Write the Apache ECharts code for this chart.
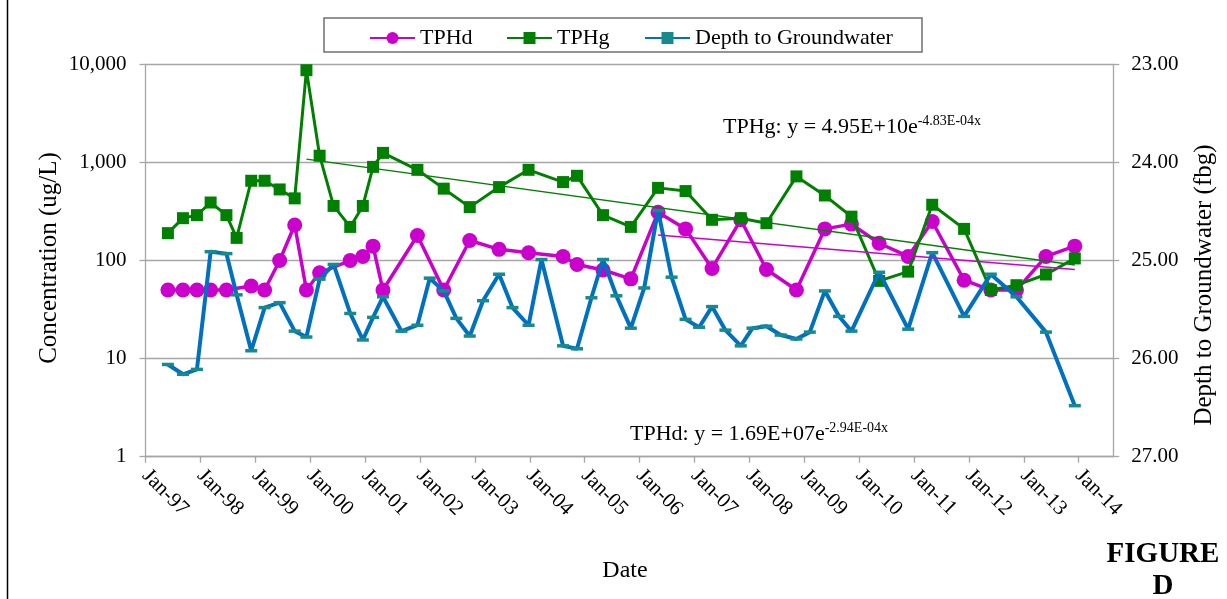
<!DOCTYPE html>
<html><head><meta charset="utf-8">
<script src="https://cdn.jsdelivr.net/npm/echarts@6/dist/echarts.min.js"></script>
<style>html,body{margin:0;padding:0;background:#fff}#c{width:1227px;height:599px}</style>
</head><body><div id="c"></div>
<script>
// ---- data ----
const depthDates = ['1997-05-30','1997-09-07','1997-12-09','1998-03-10','1998-06-23','1998-08-30','1998-12-05','1999-03-04','1999-06-12','1999-09-20','1999-12-07','2000-03-04','2000-06-05','2000-09-24','2000-12-17','2001-02-23','2001-04-30','2001-08-31','2001-12-15','2002-03-07','2002-06-08','2002-08-31','2002-11-28','2003-02-24','2003-06-11','2003-09-08','2003-12-24','2004-03-19','2004-08-10','2004-11-11','2005-02-15','2005-05-03','2005-07-31','2005-11-04','2006-02-01','2006-05-04','2006-08-02','2006-11-03','2007-02-01','2007-04-28','2007-07-26','2007-11-05','2008-01-22','2008-04-24','2008-07-28','2008-11-10','2009-02-07','2009-05-18','2009-08-21','2009-11-11','2010-05-14','2010-11-23','2011-05-02','2011-11-30','2012-05-26','2012-11-13','2013-05-28','2013-12-06'];
const depthValues = [26.06,26.16,26.11,24.91,24.93,25.35,25.92,25.48,25.43,25.72,25.78,25.19,25.04,25.54,25.81,25.58,25.37,25.72,25.66,25.18,25.31,25.59,25.77,25.41,25.14,25.48,25.66,24.99,25.87,25.90,25.38,24.99,25.36,25.69,25.28,24.49,25.17,25.60,25.68,25.47,25.71,25.87,25.69,25.67,25.76,25.80,25.73,25.31,25.57,25.72,25.12,25.70,24.92,25.57,25.14,25.37,25.73,26.48];

const tphdDates = ['1997-05-30','1997-09-07','1997-12-09','1998-03-10','1998-06-23','1998-12-05','1999-03-04','1999-06-12','1999-09-20','1999-12-07','2000-03-04','2000-09-24','2000-12-17','2001-02-23','2001-04-30','2001-12-15','2002-06-08','2002-11-28','2003-06-11','2003-12-24','2004-08-10','2004-11-11','2005-05-03','2005-11-04','2006-05-04','2006-11-03','2007-04-28','2007-11-05','2008-04-24','2008-11-10','2009-05-18','2009-11-11','2010-05-14','2010-11-23','2011-05-02','2011-11-30','2012-05-26','2012-11-13','2013-05-28','2013-12-06'];
const tphdValues = [50,50,50,50,50,55,50,100,230,50,75,100,110,140,50,180,50,160,130,120,110,91,80,65,310,210,83,260,81,50,210,235,150,110,250,63,50,50,110,140];

const tphgDates = ['1997-05-30','1997-09-07','1997-12-09','1998-03-10','1998-06-23','1998-08-30','1998-12-05','1999-03-04','1999-06-12','1999-09-20','1999-12-07','2000-03-04','2000-06-05','2000-09-24','2000-12-17','2001-02-23','2001-04-30','2001-12-15','2002-06-08','2002-11-28','2003-06-11','2003-12-24','2004-08-10','2004-11-11','2005-05-03','2005-11-04','2006-05-04','2006-11-03','2007-04-28','2007-11-05','2008-04-24','2008-11-10','2009-05-18','2009-11-11','2010-05-14','2010-11-23','2011-05-02','2011-11-30','2012-05-26','2012-11-13','2013-05-28','2013-12-06'];
const tphgValues = [190,270,290,390,290,170,650,650,530,430,8700,1170,360,220,360,900,1250,840,540,350,560,840,630,730,290,220,550,510,260,270,240,720,460,280,62,77,370,210,50,56,72,105];

const tphgTrendDates = ['1999-12-07','2013-12-06'];
const tphgTrendValues = [1080, 90];
const tphdTrendDates = ['2006-05-04','2013-12-06'];
const tphdTrendValues = [182, 81];

const yearTicks = [1997,1998,1999,2000,2001,2002,2003,2004,2005,2006,2007,2008,2009,2010,2011,2012,2013,2014];
const concTicks = [1,10,100,1000,10000];
const depthTicks = [23,24,25,26,27];

const seriesNames = ['TPHd','TPHg','Depth to Groundwater'];
const tphgEquation = ['TPHg: y = 4.95E+10e', '-4.83E-04x'];
const tphdEquation = ['TPHd: y = 1.69E+07e', '-2.94E-04x'];

// ---- helpers ----
function toYear(s){
  const p = s.split('-').map(Number);
  const t0 = Date.UTC(p[0],0,1), t1 = Date.UTC(p[0]+1,0,1);
  return p[0] + (Date.UTC(p[0],p[1]-1,p[2]) - t0) / (t1 - t0);
}
function pairs(dates, vals){ return dates.map((d,i)=>[toYear(d), vals[i]]); }

const FONT = 'Liberation Serif';
const GRAY = '#a6a6a6';
const legendText = {fontFamily: FONT, fontSize: 22, color: '#000'};
function oneLegend(name, left){
  return {data: [name], left: left, top: 22, itemWidth: 45, itemHeight: 15, itemGap: 0, textStyle: legendText};
}

const chart = echarts.init(document.getElementById('c'), null, {renderer:'canvas'});
chart.setOption({
  animation: false,
  backgroundColor: '#ffffff',
  grid: {left: 145.5, right: 113.7, top: 64.3, bottom: 142.3, containLabel: false},
  legend: [
    oneLegend(seriesNames[0], 364),
    oneLegend(seriesNames[1], 501),
    oneLegend(seriesNames[2], 639)
  ],
  xAxis: {
    type: 'value', min: 1997, max: 2014.63,
    splitLine: {show: false},
    axisLine: {lineStyle: {color: GRAY, width: 1.3}},
    axisTick: {show: true, length: 6, customValues: yearTicks, lineStyle: {color: GRAY, width: 1.3}},
    axisLabel: {
      customValues: yearTicks, rotate: -45, margin: 16,
      fontFamily: FONT, fontSize: 21, color: '#000',
      formatter: v => 'Jan-' + String(Math.round(v) % 100).padStart(2,'0')
    }
  },
  yAxis: [
    {
      type: 'log', logBase: 10, min: concTicks[0], max: concTicks[concTicks.length-1],
      axisLine: {show: true, lineStyle: {color: GRAY, width: 1.3}},
      axisTick: {show: true, length: 6, lineStyle: {color: GRAY, width: 1.3}},
      splitLine: {show: true, lineStyle: {color: GRAY, width: 1.3}},
      minorTick: {show: false},
      axisLabel: {
        margin: 19, fontFamily: FONT, fontSize: 21, color: '#000',
        formatter: v => Math.round(v).toLocaleString('en-US')
      }
    },
    {
      type: 'value', min: depthTicks[0], max: depthTicks[depthTicks.length-1], interval: 1, inverse: true, position: 'right',
      axisLine: {show: true, lineStyle: {color: GRAY, width: 1.3}},
      axisTick: {show: true, length: 6, lineStyle: {color: GRAY, width: 1.3}},
      splitLine: {show: false},
      axisLabel: {
        margin: 18, fontFamily: FONT, fontSize: 21, color: '#000',
        formatter: v => Number(v).toFixed(2)
      }
    }
  ],
  series: [
    {
      name: 'TPHd', type: 'line', yAxisIndex: 0, z: 2,
      data: pairs(tphdDates, tphdValues),
      symbol: 'circle', symbolSize: 15,
      itemStyle: {color: '#cc00cc'},
      lineStyle: {color: '#cc00cc', width: 3.5}
    },
    {
      name: 'TPHg', type: 'line', yAxisIndex: 0, z: 3,
      data: pairs(tphgDates, tphgValues),
      symbol: 'rect', symbolSize: 12,
      itemStyle: {color: '#008000'},
      lineStyle: {color: '#008000', width: 3}
    },
    {
      name: 'Depth to Groundwater', type: 'line', yAxisIndex: 1, z: 4,
      data: pairs(depthDates, depthValues),
      symbol: 'rect', symbolSize: [12, 3.5],
      itemStyle: {color: '#178a8c'},
      lineStyle: {color: '#0070c0', width: 4}
    },
    {
      name: 'TPHg trend', type: 'line', yAxisIndex: 0, z: 5,
      data: pairs(tphgTrendDates, tphgTrendValues),
      symbol: 'none', lineStyle: {color: '#008000', width: 1.3}
    },
    {
      name: 'TPHd trend', type: 'line', yAxisIndex: 0, z: 5,
      data: pairs(tphdTrendDates, tphdTrendValues),
      symbol: 'none', lineStyle: {color: '#cc00cc', width: 1.5}
    }
  ],
  graphic: [
    {type: 'rect', shape: {x: 324, y: 18, width: 598, height: 34}, style: {fill: 'none', stroke: '#707070', lineWidth: 1.5}, z: 10},
    {type: 'line', shape: {x1: 7.5, y1: 0, x2: 7.5, y2: 599}, style: {stroke: '#000', lineWidth: 1.5}},
    {type: 'text', x: 49, y: 258, rotation: Math.PI/2,
      style: {text: 'Concentration (ug/L)', fontFamily: FONT, fontSize: 25, fill: '#000', align: 'center', verticalAlign: 'middle'}},
    {type: 'text', x: 1204, y: 285, rotation: Math.PI/2,
      style: {text: 'Depth to Groundwater (fbg)', fontFamily: FONT, fontSize: 25, fill: '#000', align: 'center', verticalAlign: 'middle'}},
    {type: 'text', x: 625, y: 571,
      style: {text: 'Date', fontFamily: FONT, fontSize: 24, fill: '#000', align: 'center', verticalAlign: 'middle'}},
    {type: 'text', x: 1163, y: 555,
      style: {text: 'FIGURE', fontFamily: FONT, fontWeight: 'bold', fontSize: 29, fill: '#000', align: 'center', verticalAlign: 'middle'}},
    {type: 'text', x: 1163, y: 587,
      style: {text: 'D', fontFamily: FONT, fontWeight: 'bold', fontSize: 29, fill: '#000', align: 'center', verticalAlign: 'middle'}},
    {type: 'text', x: 723, y: 126,
      style: {text: '{m|' + tphgEquation[0] + '}{s|' + tphgEquation[1] + '}', align: 'left', verticalAlign: 'middle',
        rich: {m: {fontFamily: FONT, fontSize: 22, fill: '#000', lineHeight: 24, verticalAlign: 'bottom'},
               s: {fontFamily: FONT, fontSize: 14, fill: '#000', lineHeight: 14, verticalAlign: 'top'}}}},
    {type: 'text', x: 630, y: 433,
      style: {text: '{m|' + tphdEquation[0] + '}{s|' + tphdEquation[1] + '}', align: 'left', verticalAlign: 'middle',
        rich: {m: {fontFamily: FONT, fontSize: 22, fill: '#000', lineHeight: 24, verticalAlign: 'bottom'},
               s: {fontFamily: FONT, fontSize: 14, fill: '#000', lineHeight: 14, verticalAlign: 'top'}}}}
  ]
});
</script>
</body></html>
